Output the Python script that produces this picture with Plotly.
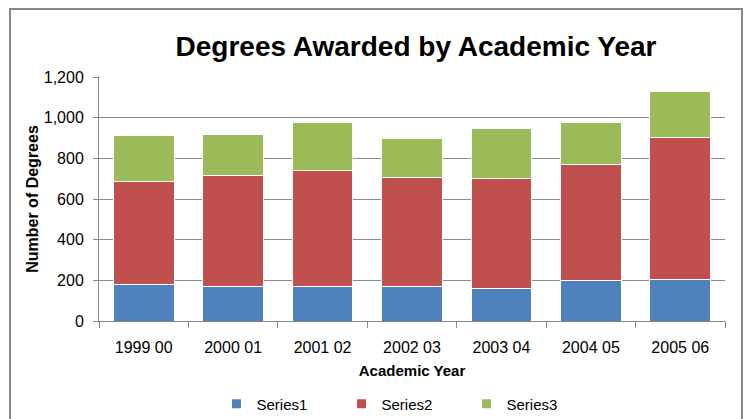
import plotly.graph_objects as go

categories = ["1999 00", "2000 01", "2001 02", "2002 03", "2003 04", "2004 05", "2005 06"]
series1 = [178, 172, 172, 172, 161, 198, 205]
series2 = [510, 546, 566, 535, 539, 571, 697]
series3 = [222, 200, 236, 192, 248, 205, 229]
series_names = ["Series1", "Series2", "Series3"]
colors = ["#4F81BD", "#C0504D", "#9BBB59"]

fig = go.Figure()
for name, vals, col in zip(series_names, [series1, series2, series3], colors):
    fig.add_trace(go.Bar(
        x=categories, y=vals, name=name, showlegend=False,
        marker=dict(color=col, line=dict(color="white", width=1)),
    ))
# legend entries with small square swatches
for name, col in zip(series_names, colors):
    fig.add_trace(go.Scatter(
        x=[None], y=[None], mode="markers", name=name,
        marker=dict(symbol="square", size=9, color=col),
    ))

font_family = "Liberation Sans, Arial, sans-serif"
W, H = 751, 419
L, R, T, B = 99, 26, 77, 98
pw, ph = W - L - R, H - T - B

def px_x(x):
    return (x - L) / pw

def px_y(y):
    return (H - B - y) / ph

fig.update_layout(
    width=W, height=H,
    margin=dict(l=L, r=R, t=T, b=B, autoexpand=False),
    barmode="stack",
    bargap=0.32,
    paper_bgcolor="white",
    plot_bgcolor="white",
    font=dict(family=font_family, size=16, color="#000000"),
    title=dict(
        text="<b>Degrees Awarded by Academic Year</b>",
        font=dict(size=28, family=font_family, color="#000000"),
        x=416 / W, xref="container", xanchor="center",
        y=1 - 46 / H, yref="container", yanchor="middle",
    ),
    xaxis=dict(
        type="category", automargin=False,
        showline=True, linecolor="#868686", linewidth=1,
        ticks="outside", tickson="boundaries", ticklen=6, tickcolor="#868686",
        ticklabelstandoff=12,
        tickfont=dict(size=16),
        title=dict(text="<b>Academic Year</b>", font=dict(size=15), standoff=10),
        showgrid=False,
    ),
    yaxis=dict(
        range=[0, 1200], dtick=200, tickformat=",", automargin=False,
        showline=True, linecolor="#868686", linewidth=1,
        ticks="outside", ticklen=5, tickcolor="#868686",
        ticklabelstandoff=6,
        showgrid=True, gridcolor="#8A8A8A", gridwidth=1,
        zeroline=False,
        tickfont=dict(size=16),
        title=dict(text="<b>Number of Degrees</b>", font=dict(size=16), standoff=1),
    ),
    legend=dict(
        orientation="h", traceorder="normal",
        xref="container", yref="container",
        x=404 / W, xanchor="center",
        y=1 - 404 / H, yanchor="middle",
        font=dict(size=15),
        entrywidth=80, entrywidthmode="pixels",
        itemwidth=30,
    ),
    shapes=[dict(
        type="rect", xref="paper", yref="paper",
        x0=px_x(10), x1=px_x(742), y0=px_y(430), y1=px_y(9),
        line=dict(color="#888888", width=2), fillcolor="rgba(0,0,0,0)",
        layer="below",
    )],
)

fig.write_html("out.html", config={"displayModeBar": False},
               post_script="document.body.style.margin='0';")
